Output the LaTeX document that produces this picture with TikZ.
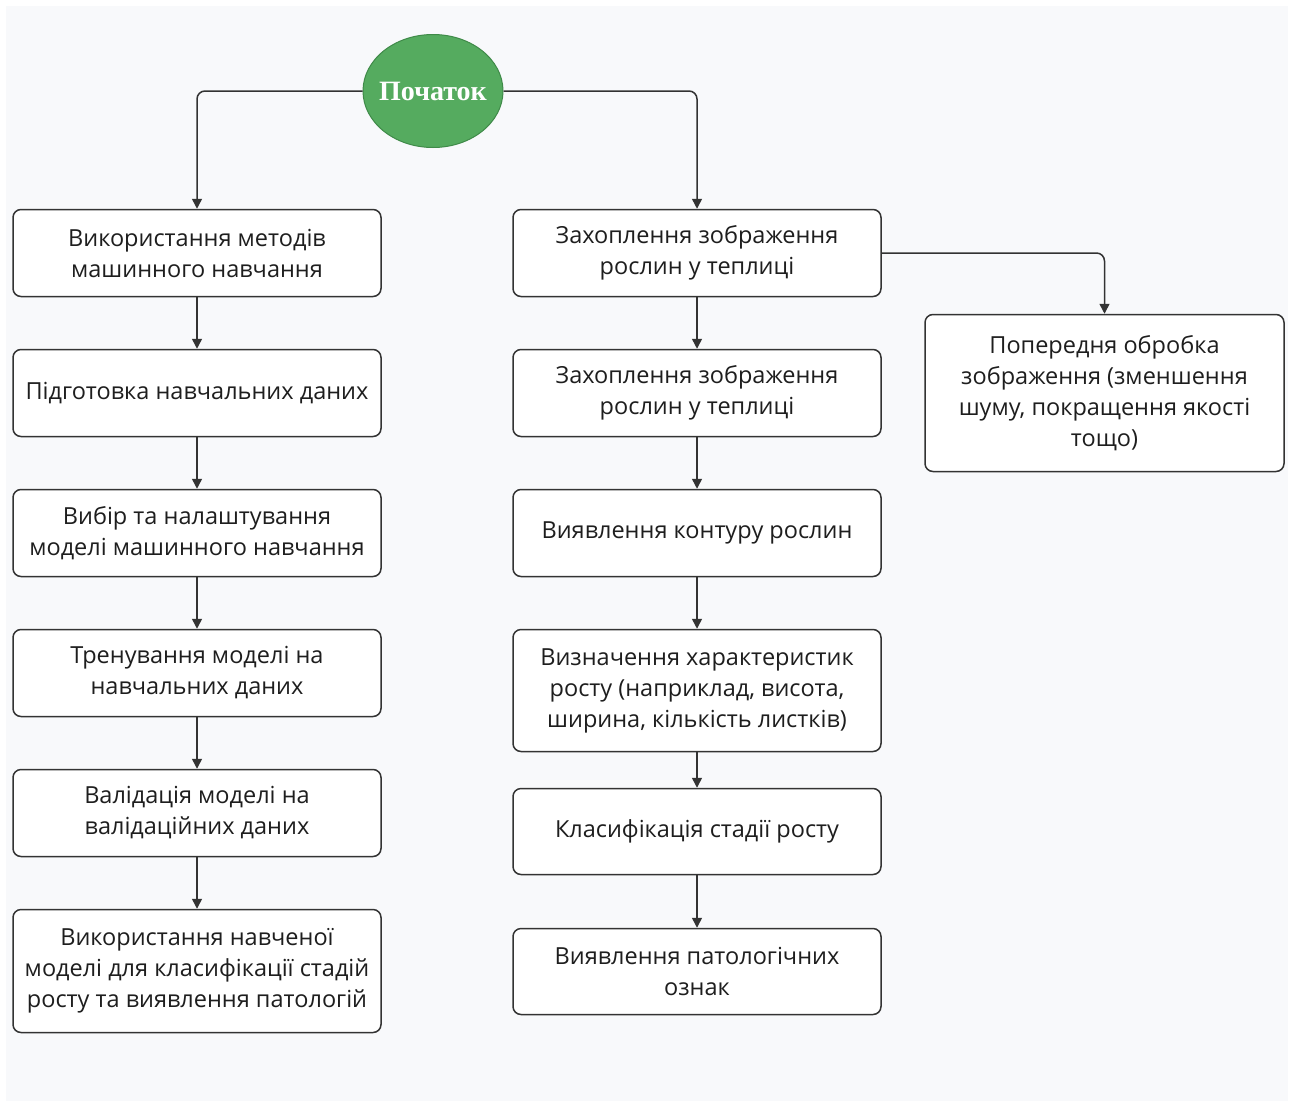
\documentclass[tikz,border=0pt]{standalone}
\usepackage{fontspec}
\setmainfont{Open Sans}
\newfontfamily\titlefont{Liberation Serif}
\usetikzlibrary{arrows.meta,shapes.geometric}
\definecolor{bgpanel}{HTML}{F8F9FB}
\definecolor{edge}{HTML}{333333}
\definecolor{txt}{HTML}{1E1E1E}
\definecolor{startgreen}{HTML}{55AB5F}
\definecolor{startedge}{HTML}{3F8A48}
\tikzset{
  stepbox/.style={draw=edge, line width=1.5pt, fill=white, rounded corners=8pt,
    minimum width=368pt, align=center, text=txt, inner sep=0pt,
    font=\fontsize{23.5}{31}\selectfont},
  link/.style={draw=edge, line width=1.5pt, rounded corners=8pt,
    -{Triangle[length=10pt,width=10pt]}},
}
\begin{document}
\begin{tikzpicture}[x=1pt,y=-1pt]
  \useasboundingbox (0,0) rectangle (1290,1103);
  \fill[white] (0,0) rectangle (1290,1103);
  \fill[bgpanel] (6,6) rectangle (1288,1101);

  % start node (text boxed narrower so the ellipse keeps its fixed size)
  \node[ellipse, fill=startgreen, draw=startedge, line width=1pt,
        minimum width=140pt, minimum height=113pt, inner sep=0pt,
        text=white, font=\titlefont\bfseries\fontsize{28}{32}\selectfont]
        (start) at (433,91) {\makebox[80pt]{Початок}};

  % left column: machine-learning branch
  \node[stepbox, minimum height=87pt]  (l1) at (197,253) {Використання методів\\машинного навчання};
  \node[stepbox, minimum height=87pt]  (l2) at (197,393) {Підготовка навчальних даних};
  \node[stepbox, minimum height=87pt]  (l3) at (197,533) {Вибір та налаштування\\моделі машинного навчання};
  \node[stepbox, minimum height=87pt]  (l4) at (197,673) {Тренування моделі на\\навчальних даних};
  \node[stepbox, minimum height=87pt]  (l5) at (197,813) {Валідація моделі на\\валідаційних даних};
  \node[stepbox, minimum height=123pt] (l6) at (197,971) {Використання навченої\\моделі для класифікації стадій\\росту та виявлення патологій};

  % middle column: image-processing branch
  \node[stepbox, minimum height=87pt]  (m1) at (697,253) {Захоплення зображення\\рослин у теплиці};
  \node[stepbox, minimum height=87pt]  (m2) at (697,393) {Захоплення зображення\\рослин у теплиці};
  \node[stepbox, minimum height=87pt]  (m3) at (697,533) {Виявлення контуру рослин};
  \node[stepbox, minimum height=122pt] (m4) at (697,690.5) {Визначення характеристик\\росту (наприклад, висота,\\ширина, кількість листків)};
  \node[stepbox, minimum height=86pt]  (m5) at (697,831.5) {Класифікація стадії росту};
  \node[stepbox, minimum height=86pt]  (m6) at (697,971.5) {Виявлення патологічних\\ознак};

  % preprocessing side box
  \node[stepbox, minimum width=359pt, minimum height=157pt] (r1) at (1104.5,393)
        {Попередня обробка\\зображення (зменшення\\шуму, покращення якості\\тощо)};

  % connectors
  \draw[link] (start.west) -| (l1.north);
  \draw[link] (start.east) -| (m1.north);
  \draw[link] (m1.east) -| (r1.north);
  \foreach \a/\b in {l1/l2,l2/l3,l3/l4,l4/l5,l5/l6,m1/m2,m2/m3,m3/m4,m4/m5,m5/m6}
    \draw[link] (\a.south) -- (\b.north);
\end{tikzpicture}
\end{document}
